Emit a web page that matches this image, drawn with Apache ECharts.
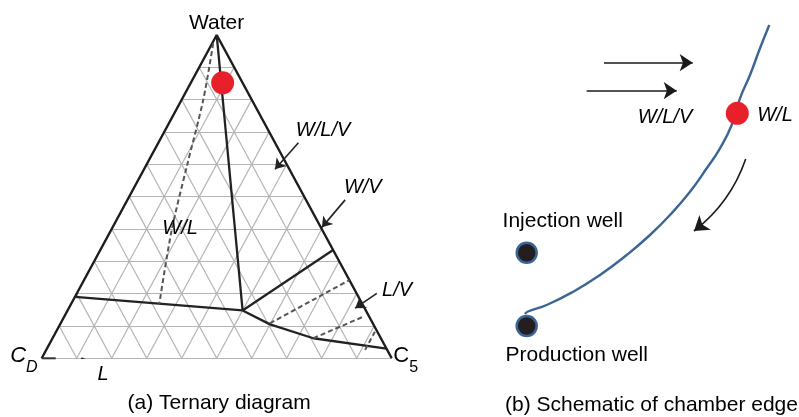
<!DOCTYPE html>
<html><head><meta charset="utf-8">
<script src="https://cdn.jsdelivr.net/npm/echarts@6/dist/echarts.min.js"></script>
<style>html,body{margin:0;padding:0;background:#fff}#c{width:799px;height:417px}</style>
</head><body><div id="c"></div>
<script>
// ---------- Panel (a): ternary diagram, points given as [water fraction, C5 fraction] ----------
const gridTicks = [0.1, 0.2, 0.3, 0.4, 0.5, 0.6, 0.7, 0.8, 0.9];
const vertices = [[0, 0], [1, 0], [0, 1]]; // C_D, Water, C5
const boundaryWater = [[1, 0], [0.148, 0.50]];
const boundaryLeft = [[0.19, 0], [0.148, 0.50]];
const boundaryRight = [[0.148, 0.50], [0.335, 0.665]];
const boundaryBottom = [[0.148, 0.50], [0.105, 0.60], [0.062, 0.745], [0.03, 0.97]];
const tieWL = [[0.974, 0.003], [0.799, 0.062], [0.593, 0.118], [0.397, 0.173], [0.168, 0.252]];
const tieLV = [
  [[0.108, 0.598], [0.242, 0.758]],
  [[0.062, 0.745], [0.129, 0.855]],
  [[0.026, 0.911], [0.082, 0.911]]
];
const lStrip = [[0, 0], [0, 0.04]];
const redPointA = [0.852, 0.091];
const arrowsA = [
  [[0.667, 0.400], [0.585, 0.374]],
  [[0.490, 0.622], [0.405, 0.598]],
  [[0.201, 0.857], [0.155, 0.818]],
  [[-0.036, 0.161], [0.002, 0.113]]
];
const labelsA = [
  {text: 'Water', at: [1.037, -0.019], style: 'plain'},
  {text: 'W/L/V', at: [0.706, 0.451], style: 'ital'},
  {text: 'W/V', at: [0.527, 0.654], style: 'ital'},
  {text: 'W/L', at: [0.403, 0.194], style: 'ital'},
  {text: 'L/V', at: [0.211, 0.910], style: 'ital'},
  {text: '{ci|C}{si|D}', at: [-0.006, -0.048], style: 'rich'},
  {text: '{c|C}{s|5}', at: [-0.006, 1.043], style: 'rich'},
  {text: 'L', at: [-0.049, 0.200], style: 'ital'},
  {text: '(a) Ternary diagram', at: [-0.138, 0.576], style: 'plain'}
];

// ---------- Panel (b): schematic of chamber edge, [x, y] in panel units ----------
const chamberEdge = [[289.3, 25], [280, 48.3], [270, 75], [260, 98.3], [251.7, 125], [240, 148.3],
  [226.7, 168.3], [210, 191.7], [190, 215], [170, 235], [146.7, 255], [120, 275], [93.3, 291.7],
  [66.7, 305], [48, 311.5], [45, 314]];
const redPointB = [257.3, 113.3];
const wells = [[46.7, 252.7], [46.7, 326]];
const flowArrows = [[[124, 62.7], [212.7, 62.7]], [[106.7, 90.7], [196.7, 90.7]]];
const drainArrow = [[265.7, 159], [214, 231]];
const labelsB = [
  {text: 'W/L/V', at: [185, 117], style: 'ital'},
  {text: 'W/L', at: [295, 115], style: 'ital'},
  {text: 'Injection well', at: [82.7, 221.7], style: 'plain'},
  {text: 'Production well', at: [96.7, 355], style: 'plain'},
  {text: '(b) Schematic of chamber edge', at: [25, 405], style: 'plain'}
];

const FONT = '"Liberation Sans", Arial, Helvetica, sans-serif';
const INK = '#000';
const T = p => [p[1] + p[0] / 2, p[0]];

function lineSeries(pts, grid, style, smooth) {
  return {
    type: 'line', xAxisIndex: grid, yAxisIndex: grid, data: pts,
    showSymbol: false, symbol: 'none', smooth: smooth || false, clip: false, silent: true,
    lineStyle: Object.assign({opacity: 1}, style), z: 3
  };
}
function labelData(list, conv) {
  return list.map(l => {
    const lab = {show: true, position: 'inside', formatter: l.text, color: INK,
      fontFamily: FONT, fontSize: 21};
    if (l.style === 'ital') { lab.fontStyle = 'italic'; lab.fontSize = 20; }
    if (l.style === 'rich') {
      lab.rich = {
        ci: {fontStyle: 'italic', fontSize: 22, fontFamily: FONT, color: INK, lineHeight: 30, verticalAlign: 'top'},
        si: {fontStyle: 'italic', fontSize: 16, fontFamily: FONT, color: INK, verticalAlign: 'bottom'},
        c: {fontSize: 22, fontFamily: FONT, color: INK, lineHeight: 30, verticalAlign: 'top'},
        s: {fontSize: 16, fontFamily: FONT, color: INK, verticalAlign: 'bottom'}
      };
    }
    return {value: conv(l.at), label: lab};
  });
}

const series = [];
// ternary grid
const gridLines = [];
gridTicks.forEach(t => {
  gridLines.push({coords: [T([t, 0]), T([t, 1 - t])]});
  gridLines.push({coords: [T([0, t]), T([1 - t, t])]});
  gridLines.push({coords: [T([0, 1 - t]), T([1 - t, 0])]});
});
gridLines.push({coords: [T(vertices[0]), T(vertices[2])]});
series.push({type: 'lines', coordinateSystem: 'cartesian2d', xAxisIndex: 0, yAxisIndex: 0,
  data: gridLines, symbol: 'none', silent: true, z: 1,
  lineStyle: {color: '#b4b4b4', width: 1.2, opacity: 1}});
// triangle sides
series.push(lineSeries([T(vertices[0]), T(vertices[1]), T(vertices[2])], 0, {color: '#1c1c1c', width: 2.4}));
series.push(lineSeries(lStrip.map(T), 0, {color: '#333', width: 2}));
[boundaryWater, boundaryLeft, boundaryRight, boundaryBottom].forEach(b =>
  series.push(lineSeries(b.map(T), 0, {color: '#222', width: 2.3})));
series.push(lineSeries(tieWL.map(T), 0, {color: '#555', width: 2, type: [5, 3]}, 0.3));
tieLV.forEach(b => series.push(lineSeries(b.map(T), 0, {color: '#555', width: 2, type: [5, 3]})));
series.push({type: 'lines', coordinateSystem: 'cartesian2d', xAxisIndex: 0, yAxisIndex: 0,
  data: arrowsA.map(a => ({coords: a.map(T)})), symbol: ['none', 'arrow'], symbolSize: 10,
  silent: true, z: 4, lineStyle: {color: '#222', width: 1.6, opacity: 1}});
series.push({type: 'scatter', xAxisIndex: 0, yAxisIndex: 0, data: [T(redPointA)], symbolSize: 23,
  itemStyle: {color: '#e8202a', opacity: 1}, silent: true, z: 6, clip: false});
series.push({type: 'scatter', xAxisIndex: 0, yAxisIndex: 0, data: labelData(labelsA, T), symbolSize: 0,
  itemStyle: {opacity: 1}, silent: true, z: 7, clip: false});

// panel b
series.push(lineSeries(chamberEdge, 1, {color: '#3a6595', width: 2.4}, 0.5));
series.push({type: 'lines', coordinateSystem: 'cartesian2d', xAxisIndex: 1, yAxisIndex: 1,
  data: flowArrows.map(a => ({coords: a})), symbol: ['none', 'arrow'], symbolSize: 13,
  silent: true, z: 4, lineStyle: {color: '#1a1a1a', width: 1.6, opacity: 1}});
series.push({type: 'lines', coordinateSystem: 'cartesian2d', xAxisIndex: 1, yAxisIndex: 1,
  data: [{coords: drainArrow}], symbol: ['none', 'arrow'], symbolSize: 14,
  silent: true, z: 4, lineStyle: {color: '#1a1a1a', width: 1.6, opacity: 1, curveness: 0.15}});
series.push({type: 'scatter', xAxisIndex: 1, yAxisIndex: 1, data: [redPointB], symbolSize: 23,
  itemStyle: {color: '#e8202a', opacity: 1}, silent: true, z: 6, clip: false});
series.push({type: 'scatter', xAxisIndex: 1, yAxisIndex: 1, data: wells, symbolSize: 20,
  itemStyle: {color: '#231f20', borderColor: '#3a6595', borderWidth: 2.5, opacity: 1}, silent: true, z: 6, clip: false});
const lb = labelData(labelsB, p => p);
lb[4].label.align = 'left';
series.push({type: 'scatter', xAxisIndex: 1, yAxisIndex: 1, data: lb, symbolSize: 0,
  itemStyle: {opacity: 1}, silent: true, z: 7, clip: false});

const hiddenAxis = (min, max, inv) => ({type: 'value', min, max, inverse: !!inv, show: false,
  splitLine: {show: false}});
const chart = echarts.init(document.getElementById('c'), null, {renderer: 'canvas'});
chart.setOption({
  animation: false,
  backgroundColor: '#fff',
  grid: [
    {left: 41.7, top: 35, width: 350, height: 323.3},
    {left: 480, top: 0, width: 319, height: 417}
  ],
  xAxis: [hiddenAxis(0, 1), Object.assign(hiddenAxis(0, 319), {gridIndex: 1})],
  yAxis: [hiddenAxis(0, 1), Object.assign(hiddenAxis(0, 417, true), {gridIndex: 1})],
  series
});
</script></body></html>
